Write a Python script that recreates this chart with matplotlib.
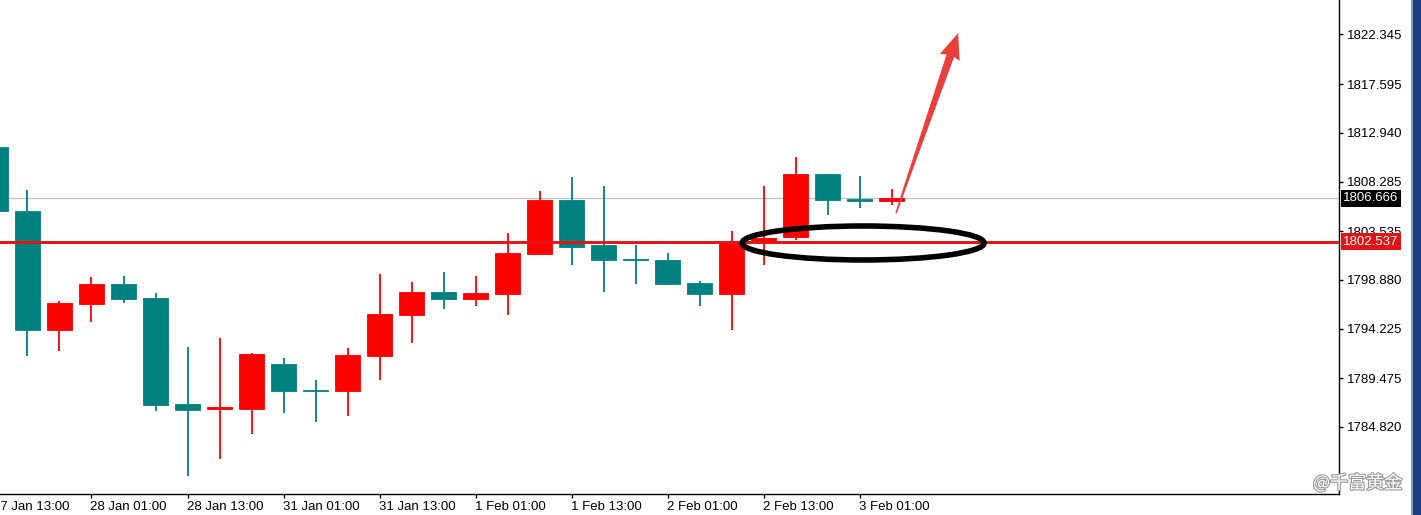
import matplotlib
matplotlib.use("Agg")
import matplotlib.pyplot as plt
from matplotlib.patches import Ellipse, Polygon, Rectangle
import matplotlib.transforms as mtransforms
import matplotlib.patheffects as pe
import numpy as np

plt.rcParams['font.family'] = ['Liberation Sans', 'DejaVu Sans']

# ---------------- data (H4 candles, XAUUSD) ----------------
candle_index = list(range(-1, 28))
opens = [1811.59, 1805.47, 1794.09, 1796.58, 1798.49, 1797.15, 1787.02, 1786.54,
         1786.54, 1790.84, 1788.40, 1788.26, 1791.61, 1795.53, 1797.72, 1797.06,
         1797.53, 1801.36, 1806.52, 1802.22, 1800.88, 1800.78, 1798.59, 1797.53,
         1802.51, 1802.98, 1809.01, 1806.62, 1806.43]
highs = [1811.80, 1807.48, 1796.86, 1799.16, 1799.25, 1797.63, 1792.47, 1793.33,
         1791.89, 1791.41, 1789.31, 1792.37, 1799.45, 1798.68, 1799.64, 1799.25,
         1803.37, 1807.38, 1808.72, 1807.86, 1802.22, 1801.45, 1798.78, 1803.56,
         1807.86, 1810.63, 1809.01, 1808.82, 1807.57]
lows = [1805.30, 1791.61, 1792.08, 1794.86, 1796.67, 1786.35, 1780.13, 1781.76,
        1784.15, 1786.16, 1785.30, 1785.87, 1789.31, 1792.85, 1796.10, 1796.39,
        1795.53, 1801.36, 1800.31, 1797.72, 1798.49, 1798.39, 1796.39, 1794.09,
        1800.31, 1802.70, 1805.09, 1805.76, 1806.04]
closes = [1805.47, 1794.09, 1796.67, 1798.49, 1797.06, 1786.92, 1786.44, 1786.73,
          1791.80, 1788.26, 1788.26, 1791.70, 1795.62, 1797.72, 1797.06, 1797.63,
          1801.45, 1806.52, 1802.03, 1800.78, 1800.74, 1798.49, 1797.53, 1802.51,
          1802.89, 1809.01, 1806.52, 1806.43, 1806.666]

time_label_index = [-1, 2, 5, 8, 11, 14, 17, 20, 23, 26]
time_labels = ["27 Jan 13:00", "28 Jan 01:00", "28 Jan 13:00", "31 Jan 01:00",
               "31 Jan 13:00", "1 Feb 01:00", "1 Feb 13:00", "2 Feb 01:00",
               "2 Feb 13:00", "3 Feb 01:00"]
ytick_values = [1822.345, 1817.595, 1812.940, 1808.285, 1803.535,
                1798.880, 1794.225, 1789.475, 1784.820]
bid_price = 1806.666
level_price = 1802.537

# annotation anchors (candle index, price)
ellipse_center = (26.11, 1802.41)
ellipse_size = (7.56, 3.25)
arrow_tail = (27.14, 1805.28)
arrow_tip = (29.08, 1822.49)

RED = "#ff0000"
TEAL = "#008080"

# ---------------- figure ----------------
W, H = 1421, 515
fig = plt.figure(figsize=(W / 100, H / 100), dpi=100, facecolor="white")
ax = fig.add_axes([0, 21 / H, 1339 / W, 494 / H])
ax.set_facecolor("white")

idx = np.array(candle_index)
o = np.array(opens); h = np.array(highs); l = np.array(lows); c = np.array(closes)
up = c >= o
colors = np.where(up, RED, TEAL)

# bid line (behind candles)
ax.axhline(bid_price, color="#c0c0c0", lw=0.9, zorder=1)

ax.vlines(idx, l, h, colors=colors, lw=1.3, zorder=2)
ax.bar(idx, np.abs(c - o), width=0.78, bottom=np.minimum(o, c), color=colors,
       edgecolor=colors, linewidth=0.6, zorder=3)

# horizontal level line
ax.axhline(level_price, color="#e01414", lw=2.1, zorder=4)

ax.set_xlim(-0.859, 40.98)
ax.set_ylim(1778.41, 1825.643)

for s in ["top", "left"]:
    ax.spines[s].set_visible(False)
for s in ["right", "bottom"]:
    ax.spines[s].set_color("black")
    ax.spines[s].set_linewidth(1.0)

ax.yaxis.tick_right()
ax.set_yticks(ytick_values)
ax.set_yticklabels([f"{v:.3f}" for v in ytick_values])
ax.tick_params(axis="y", direction="out", length=3, width=1, pad=2.5,
               labelsize=9.5, colors="black")

in_range = [(k, t) for k, t in zip(time_label_index, time_labels) if k >= ax.get_xlim()[0]]
ax.set_xticks([k for k, _ in in_range])
ax.set_xticklabels([t for _, t in in_range])
ax.tick_params(axis="x", direction="out", length=3, width=1, pad=2,
               labelsize=9.5, colors="black")
offset = mtransforms.ScaledTranslation(-1 / 100, 0, fig.dpi_scale_trans)
for lab in ax.get_xticklabels():
    lab.set_horizontalalignment("left")
    lab.set_transform(lab.get_transform() + offset)
# labels whose tick lies left of the visible area
xtrans = mtransforms.blended_transform_factory(ax.transData, ax.transAxes)
for k, t in zip(time_label_index, time_labels):
    if k < ax.get_xlim()[0]:
        ax.text(k, 0, t, transform=xtrans + mtransforms.ScaledTranslation(-2 / 100, -5 / 72, fig.dpi_scale_trans),
                ha="left", va="top", fontsize=9.5, clip_on=False)

# price tags
ytrans = mtransforms.blended_transform_factory(ax.transAxes, ax.transData)
ax.text(1.0 + 4 / 1339, bid_price, f"{bid_price:.3f}", transform=ytrans,
        ha="left", va="center", color="white", fontsize=9.5, zorder=10, clip_on=False,
        bbox=dict(boxstyle="square,pad=0.18", fc="black", ec="none"))
ax.text(1.0 + 4 / 1339, level_price, f"{level_price:.3f}", transform=ytrans,
        ha="left", va="center", color="white", fontsize=9.5, zorder=10, clip_on=False,
        bbox=dict(boxstyle="square,pad=0.18", fc="#e01414", ec="none"))

# ellipse annotation
ax.add_patch(Ellipse(ellipse_center, ellipse_size[0], ellipse_size[1], fill=False,
                     ec="black", lw=4.0, zorder=8))

# arrow annotation (tapered)
fig.canvas.draw()
p0 = ax.transData.transform(arrow_tail)
p1 = ax.transData.transform(arrow_tip)
d = p1 - p0
L = np.hypot(*d)
u = d / L
n = np.array([-u[1], u[0]])
head_len, head_w, w0, w1 = 24, 21, 1.5, 8
base = p1 - u * head_len
pts = [p0 + n * w0 / 2, base + n * w1 / 2, base - u * 2 + n * head_w / 2, p1,
       base - u * 2 - n * head_w / 2, base - n * w1 / 2, p0 - n * w0 / 2]
fig.patches.append(Polygon(pts, closed=True, transform=mtransforms.IdentityTransform(),
                           fc="#e8403a", ec="none", zorder=9))

# right window border
fig.patches.append(Rectangle((1411 / W, 0), 10 / W, 1, transform=fig.transFigure,
                             fc="#1d3c78", ec="none", zorder=0))
fig.patches.append(Rectangle((1411 / W, 0), 1.5 / W, 1, transform=fig.transFigure,
                             fc="#7f9cc8", ec="none", zorder=0))

# watermark
fig.text(1313 / W, (H - 483) / H, "@千富黄金", family=["Noto Sans CJK SC", "DejaVu Sans"],
         fontsize=13, color="white", ha="left", va="center", zorder=20,
         path_effects=[pe.withStroke(linewidth=1.6, foreground="#9a9a9a")])

fig.savefig("out.png", dpi=100, facecolor="white")
